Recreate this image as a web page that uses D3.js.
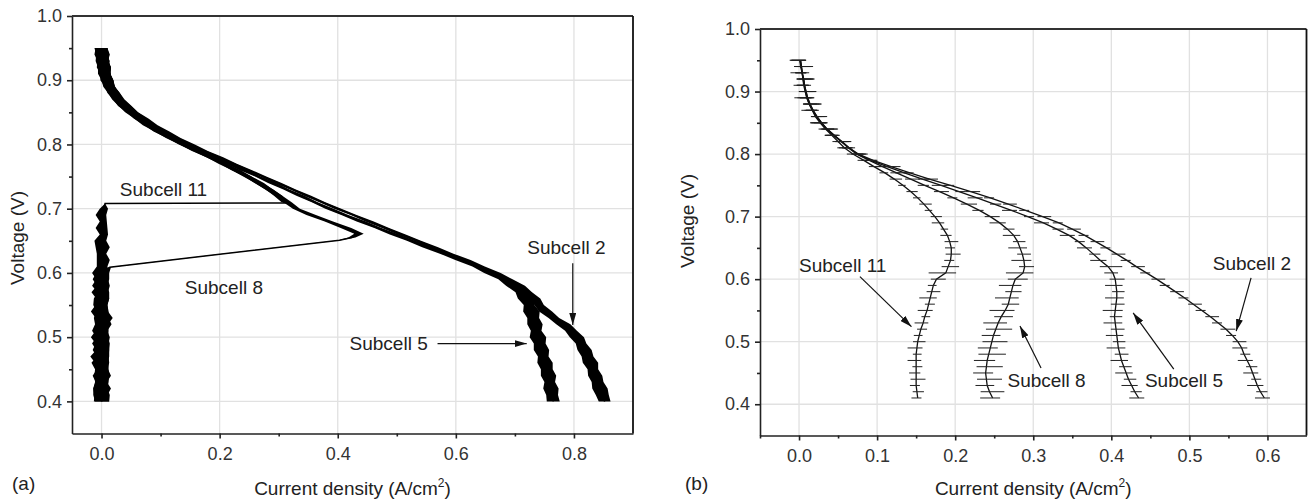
<!DOCTYPE html>
<html>
<head>
<meta charset="utf-8">
<script src="https://cdn.jsdelivr.net/npm/d3@7"></script>
<style>
    body { margin: 0; background: #fff; }
    svg text { font-family: "Liberation Sans", Arial, sans-serif; fill: #222; }
</style>
</head>
<body>
<svg id="chart" width="1308" height="500"></svg>
<script>
// ---- data: [voltage V, current density A/cm2, noise half-width] ----

// Panel (a)
const sub11A = [
    [0.95, 0.000, 0.010], [0.94, 0.001, 0.013], [0.93, 0.002, 0.009], [0.92, 0.004, 0.012], [0.91, 0.006, 0.008],
    [0.90, 0.009, 0.011], [0.89, 0.014, 0.008], [0.88, 0.020, 0.010], [0.87, 0.028, 0.008], [0.86, 0.038, 0.010],
    [0.85, 0.050, 0.007], [0.84, 0.064, 0.009], [0.83, 0.080, 0.007], [0.82, 0.097, 0.009], [0.81, 0.118, 0.007],
    [0.80, 0.140, 0.009], [0.79, 0.162, 0.007], [0.78, 0.185, 0.008], [0.77, 0.207, 0.006], [0.76, 0.228, 0.008],
    [0.75, 0.248, 0.006], [0.74, 0.267, 0.008], [0.73, 0.284, 0.006], [0.72, 0.299, 0.007], [0.71, 0.310, 0.005],
    [0.709, 0.313, 0.000], [0.708, 0.006, 0.000],
    [0.70, 0.004, 0.007], [0.69, -0.001, 0.009], [0.68, 0.003, 0.006], [0.67, 0.000, 0.010], [0.66, 0.004, 0.007],
    [0.65, -0.002, 0.010], [0.64, 0.002, 0.012], [0.63, 0.000, 0.008], [0.62, 0.003, 0.011], [0.61, 0.001, 0.009],
    [0.60, -0.002, 0.014], [0.59, 0.001, 0.010], [0.58, -0.001, 0.015], [0.57, 0.002, 0.009], [0.56, 0.000, 0.013],
    [0.55, -0.002, 0.012], [0.54, 0.001, 0.010], [0.53, 0.003, 0.016], [0.52, 0.000, 0.011], [0.51, -0.002, 0.014],
    [0.50, 0.001, 0.010], [0.49, -0.001, 0.015], [0.48, 0.002, 0.011], [0.47, -0.003, 0.016], [0.46, 0.000, 0.011],
    [0.45, 0.002, 0.010], [0.44, -0.001, 0.014], [0.43, 0.001, 0.011], [0.42, -0.002, 0.012], [0.41, 0.000, 0.014],
    [0.40, 0.001, 0.012]
];
const sub8A = [
    [0.95, -0.001, 0.011], [0.94, 0.000, 0.009], [0.93, 0.002, 0.012], [0.92, 0.003, 0.009], [0.91, 0.005, 0.011],
    [0.90, 0.008, 0.008], [0.89, 0.013, 0.010], [0.88, 0.019, 0.008], [0.87, 0.027, 0.009], [0.86, 0.037, 0.008],
    [0.85, 0.049, 0.009], [0.84, 0.063, 0.007], [0.83, 0.079, 0.009], [0.82, 0.097, 0.007], [0.81, 0.117, 0.008],
    [0.80, 0.139, 0.007], [0.79, 0.161, 0.008], [0.78, 0.184, 0.006], [0.77, 0.206, 0.008], [0.76, 0.227, 0.006],
    [0.75, 0.247, 0.007], [0.74, 0.266, 0.006], [0.73, 0.284, 0.007], [0.72, 0.300, 0.006], [0.71, 0.315, 0.007],
    [0.70, 0.330, 0.006], [0.69, 0.355, 0.008], [0.68, 0.385, 0.007], [0.67, 0.414, 0.009], [0.661, 0.436, 0.008],
    [0.655, 0.424, 0.006], [0.651, 0.403, 0.002], [0.609, 0.014, 0.002],
    [0.60, 0.002, 0.011], [0.59, -0.001, 0.014], [0.58, 0.001, 0.009], [0.57, -0.002, 0.015], [0.56, 0.002, 0.011],
    [0.55, 0.000, 0.010], [0.54, -0.003, 0.015], [0.53, 0.001, 0.011], [0.52, 0.003, 0.014], [0.51, 0.000, 0.010],
    [0.50, -0.002, 0.016], [0.49, 0.001, 0.011], [0.48, -0.001, 0.014], [0.47, 0.002, 0.010], [0.46, -0.002, 0.015],
    [0.45, 0.000, 0.011], [0.44, 0.002, 0.014], [0.43, -0.001, 0.010], [0.42, 0.001, 0.015], [0.41, -0.001, 0.011],
    [0.40, 0.000, 0.013]
];
const sub5A = [
    [0.95, 0.000, 0.010], [0.94, 0.001, 0.011], [0.93, 0.003, 0.008], [0.92, 0.005, 0.011], [0.91, 0.007, 0.008],
    [0.90, 0.010, 0.010], [0.89, 0.015, 0.007], [0.88, 0.022, 0.009], [0.87, 0.030, 0.007], [0.86, 0.041, 0.009],
    [0.85, 0.054, 0.007], [0.84, 0.069, 0.008], [0.83, 0.086, 0.006], [0.82, 0.104, 0.008], [0.81, 0.124, 0.006],
    [0.80, 0.146, 0.008], [0.79, 0.169, 0.006], [0.78, 0.193, 0.007], [0.77, 0.217, 0.005], [0.76, 0.241, 0.007],
    [0.75, 0.265, 0.005], [0.74, 0.289, 0.007], [0.73, 0.313, 0.005], [0.72, 0.337, 0.007], [0.71, 0.361, 0.005],
    [0.70, 0.386, 0.007], [0.69, 0.412, 0.006], [0.68, 0.440, 0.008], [0.67, 0.468, 0.006], [0.66, 0.496, 0.008],
    [0.65, 0.524, 0.007], [0.64, 0.552, 0.009], [0.63, 0.580, 0.007], [0.62, 0.609, 0.010], [0.61, 0.636, 0.008],
    [0.60, 0.660, 0.012], [0.59, 0.681, 0.009], [0.58, 0.698, 0.013], [0.57, 0.710, 0.009], [0.56, 0.718, 0.013],
    [0.55, 0.724, 0.009], [0.54, 0.728, 0.014], [0.53, 0.731, 0.010], [0.52, 0.734, 0.013], [0.51, 0.736, 0.009],
    [0.50, 0.739, 0.014], [0.49, 0.742, 0.010], [0.48, 0.745, 0.013], [0.47, 0.748, 0.009], [0.46, 0.751, 0.013],
    [0.45, 0.754, 0.010], [0.44, 0.757, 0.013], [0.43, 0.759, 0.009], [0.42, 0.761, 0.013], [0.41, 0.763, 0.010],
    [0.40, 0.765, 0.011]
];
const sub2A = [
    [0.95, 0.000, 0.009], [0.94, 0.002, 0.011], [0.93, 0.004, 0.008], [0.92, 0.006, 0.010], [0.91, 0.008, 0.007],
    [0.90, 0.011, 0.009], [0.89, 0.016, 0.007], [0.88, 0.023, 0.008], [0.87, 0.032, 0.007], [0.86, 0.043, 0.008],
    [0.85, 0.056, 0.006], [0.84, 0.072, 0.008], [0.83, 0.089, 0.006], [0.82, 0.108, 0.007], [0.81, 0.129, 0.005],
    [0.80, 0.151, 0.007], [0.79, 0.175, 0.005], [0.78, 0.199, 0.007], [0.77, 0.224, 0.005], [0.76, 0.249, 0.006],
    [0.75, 0.274, 0.005], [0.74, 0.299, 0.006], [0.73, 0.324, 0.005], [0.72, 0.349, 0.006], [0.71, 0.374, 0.005],
    [0.70, 0.400, 0.006], [0.69, 0.427, 0.005], [0.68, 0.454, 0.007], [0.67, 0.481, 0.006], [0.66, 0.508, 0.007],
    [0.65, 0.535, 0.006], [0.64, 0.562, 0.008], [0.63, 0.589, 0.007], [0.62, 0.616, 0.009], [0.61, 0.642, 0.007],
    [0.60, 0.666, 0.010], [0.59, 0.688, 0.008], [0.58, 0.706, 0.011], [0.57, 0.720, 0.009], [0.56, 0.731, 0.012],
    [0.55, 0.741, 0.008], [0.54, 0.752, 0.011], [0.53, 0.766, 0.009], [0.52, 0.782, 0.012], [0.51, 0.795, 0.010],
    [0.50, 0.805, 0.012], [0.49, 0.812, 0.009], [0.48, 0.818, 0.012], [0.47, 0.823, 0.010], [0.46, 0.828, 0.013],
    [0.45, 0.832, 0.009], [0.44, 0.836, 0.012], [0.43, 0.840, 0.010], [0.42, 0.844, 0.013], [0.41, 0.848, 0.011],
    [0.40, 0.852, 0.010]
];

// Panel (b)
const sub11B = [
    [0.95, 0.002, 0.012], [0.94, 0.003, 0.015], [0.93, 0.004, 0.008], [0.92, 0.005, 0.014], [0.91, 0.006, 0.009],
    [0.90, 0.008, 0.013], [0.89, 0.010, 0.016], [0.88, 0.013, 0.010], [0.87, 0.017, 0.014], [0.86, 0.021, 0.008],
    [0.85, 0.027, 0.013], [0.84, 0.034, 0.015], [0.83, 0.042, 0.008], [0.82, 0.050, 0.012], [0.81, 0.058, 0.009],
    [0.80, 0.069, 0.013], [0.79, 0.083, 0.008], [0.78, 0.096, 0.011], [0.77, 0.110, 0.007], [0.76, 0.122, 0.010],
    [0.75, 0.133, 0.006], [0.74, 0.143, 0.009], [0.73, 0.152, 0.006], [0.72, 0.160, 0.010], [0.71, 0.167, 0.006],
    [0.70, 0.174, 0.009], [0.69, 0.180, 0.010], [0.68, 0.185, 0.006], [0.67, 0.190, 0.009], [0.66, 0.193, 0.011],
    [0.65, 0.195, 0.008], [0.64, 0.195, 0.012], [0.63, 0.194, 0.008], [0.62, 0.191, 0.014], [0.61, 0.188, 0.022],
    [0.60, 0.176, 0.012], [0.59, 0.172, 0.007], [0.58, 0.170, 0.011], [0.57, 0.168, 0.014], [0.56, 0.166, 0.008],
    [0.55, 0.164, 0.012], [0.54, 0.161, 0.007], [0.53, 0.159, 0.011], [0.52, 0.156, 0.008], [0.51, 0.154, 0.007],
    [0.50, 0.152, 0.010], [0.49, 0.151, 0.012], [0.48, 0.150, 0.007], [0.47, 0.150, 0.011], [0.46, 0.150, 0.008],
    [0.45, 0.150, 0.009], [0.44, 0.150, 0.012], [0.43, 0.150, 0.008], [0.42, 0.151, 0.009], [0.41, 0.152, 0.008]
];
const sub8B = [
    [0.95, 0.001, 0.013], [0.94, 0.003, 0.009], [0.93, 0.004, 0.015], [0.92, 0.006, 0.010], [0.91, 0.007, 0.014],
    [0.90, 0.009, 0.009], [0.89, 0.011, 0.013], [0.88, 0.014, 0.015], [0.87, 0.018, 0.009], [0.86, 0.023, 0.013],
    [0.85, 0.029, 0.010], [0.84, 0.036, 0.014], [0.83, 0.045, 0.009], [0.82, 0.054, 0.013], [0.81, 0.063, 0.008],
    [0.80, 0.074, 0.012], [0.79, 0.090, 0.009], [0.78, 0.107, 0.013], [0.77, 0.125, 0.008], [0.76, 0.143, 0.012],
    [0.75, 0.161, 0.009], [0.74, 0.180, 0.012], [0.73, 0.198, 0.008], [0.72, 0.215, 0.013], [0.71, 0.231, 0.009],
    [0.70, 0.245, 0.012], [0.69, 0.257, 0.013], [0.68, 0.267, 0.009], [0.67, 0.275, 0.014], [0.66, 0.280, 0.010],
    [0.65, 0.283, 0.015], [0.64, 0.286, 0.011], [0.63, 0.288, 0.016], [0.62, 0.289, 0.012], [0.61, 0.287, 0.022],
    [0.60, 0.277, 0.016], [0.59, 0.274, 0.018], [0.58, 0.272, 0.013], [0.57, 0.270, 0.019], [0.56, 0.268, 0.014],
    [0.55, 0.264, 0.020], [0.54, 0.259, 0.015], [0.53, 0.255, 0.019], [0.52, 0.252, 0.021], [0.51, 0.249, 0.015],
    [0.50, 0.247, 0.020], [0.49, 0.245, 0.016], [0.48, 0.243, 0.022], [0.47, 0.241, 0.017], [0.46, 0.240, 0.021],
    [0.45, 0.239, 0.016], [0.44, 0.240, 0.020], [0.43, 0.241, 0.015], [0.42, 0.244, 0.019], [0.41, 0.248, 0.016]
];
const sub5B = [
    [0.95, 0.002, 0.011], [0.94, 0.003, 0.013], [0.93, 0.004, 0.009], [0.92, 0.006, 0.014], [0.91, 0.007, 0.009],
    [0.90, 0.009, 0.013], [0.89, 0.011, 0.010], [0.88, 0.014, 0.014], [0.87, 0.018, 0.009], [0.86, 0.023, 0.012],
    [0.85, 0.029, 0.013], [0.84, 0.036, 0.009], [0.83, 0.045, 0.012], [0.82, 0.055, 0.009], [0.81, 0.064, 0.013],
    [0.80, 0.075, 0.009], [0.79, 0.092, 0.012], [0.78, 0.113, 0.008], [0.77, 0.135, 0.012], [0.76, 0.158, 0.009],
    [0.75, 0.182, 0.012], [0.74, 0.205, 0.008], [0.73, 0.228, 0.012], [0.72, 0.250, 0.009], [0.71, 0.272, 0.012],
    [0.70, 0.293, 0.008], [0.69, 0.313, 0.012], [0.68, 0.330, 0.009], [0.67, 0.346, 0.012], [0.66, 0.358, 0.008],
    [0.65, 0.368, 0.012], [0.64, 0.377, 0.009], [0.63, 0.386, 0.013], [0.62, 0.396, 0.018], [0.61, 0.402, 0.011],
    [0.60, 0.405, 0.012], [0.59, 0.406, 0.014], [0.58, 0.407, 0.010], [0.57, 0.407, 0.015], [0.56, 0.406, 0.011],
    [0.55, 0.405, 0.016], [0.54, 0.404, 0.010], [0.53, 0.405, 0.015], [0.52, 0.406, 0.011], [0.51, 0.407, 0.014],
    [0.50, 0.408, 0.010], [0.49, 0.409, 0.015], [0.48, 0.411, 0.011], [0.47, 0.413, 0.014], [0.46, 0.416, 0.010],
    [0.45, 0.419, 0.014], [0.44, 0.422, 0.010], [0.43, 0.426, 0.013], [0.42, 0.430, 0.009], [0.41, 0.435, 0.012]
];
const sub2B = [
    [0.95, 0.001, 0.012], [0.94, 0.002, 0.014], [0.93, 0.004, 0.009], [0.92, 0.005, 0.013], [0.91, 0.007, 0.010],
    [0.90, 0.008, 0.014], [0.89, 0.010, 0.009], [0.88, 0.013, 0.013], [0.87, 0.017, 0.010], [0.86, 0.022, 0.011],
    [0.85, 0.028, 0.013], [0.84, 0.035, 0.010], [0.83, 0.044, 0.011], [0.82, 0.054, 0.012], [0.81, 0.064, 0.008],
    [0.80, 0.076, 0.012], [0.79, 0.095, 0.009], [0.78, 0.118, 0.012], [0.77, 0.142, 0.008], [0.76, 0.167, 0.011],
    [0.75, 0.194, 0.008], [0.74, 0.220, 0.012], [0.73, 0.245, 0.008], [0.72, 0.268, 0.011], [0.71, 0.290, 0.008],
    [0.70, 0.312, 0.011], [0.69, 0.333, 0.008], [0.68, 0.350, 0.011], [0.67, 0.366, 0.008], [0.66, 0.380, 0.011],
    [0.65, 0.394, 0.008], [0.64, 0.407, 0.011], [0.63, 0.420, 0.008], [0.62, 0.432, 0.011], [0.61, 0.445, 0.008],
    [0.60, 0.458, 0.011], [0.59, 0.470, 0.008], [0.58, 0.482, 0.011], [0.57, 0.494, 0.008], [0.56, 0.505, 0.011],
    [0.55, 0.516, 0.008], [0.54, 0.527, 0.011], [0.53, 0.537, 0.008], [0.52, 0.547, 0.012], [0.51, 0.555, 0.008],
    [0.50, 0.562, 0.011], [0.49, 0.567, 0.012], [0.48, 0.570, 0.008], [0.47, 0.574, 0.012], [0.46, 0.578, 0.009],
    [0.45, 0.581, 0.012], [0.44, 0.584, 0.008], [0.43, 0.587, 0.013], [0.42, 0.591, 0.009], [0.41, 0.596, 0.012]
];

// ticks
const voltTicks = [0.4, 0.5, 0.6, 0.7, 0.8, 0.9, 1.0];
const voltMinor = [0.45, 0.55, 0.65, 0.75, 0.85, 0.95];
const currTicksA = [0.0, 0.2, 0.4, 0.6, 0.8];
const currMinorA = [0.1, 0.3, 0.5, 0.7];
const currTicksB = [0.0, 0.1, 0.2, 0.3, 0.4, 0.5, 0.6];
const currMinorB = [-0.05, 0.05, 0.15, 0.25, 0.35, 0.45, 0.55];

// annotations (data units): label anchor, optional arrow from -> to
const notesA = [
    { text: 'Subcell 11', at: [0.031, 0.719] },
    { text: 'Subcell 8', at: [0.141, 0.567] },
    { text: 'Subcell 5', at: [0.420, 0.480], arrow: [[0.569, 0.490], [0.720, 0.490]] },
    { text: 'Subcell 2', at: [0.721, 0.629], arrow: [[0.798, 0.615], [0.798, 0.519]] }
];
const notesB = [
    { text: 'Subcell 11', at: [0.000, 0.612], arrow: [[0.078, 0.604], [0.144, 0.524]] },
    { text: 'Subcell 8', at: [0.267, 0.428], arrow: [[0.310, 0.458], [0.283, 0.525]] },
    { text: 'Subcell 5', at: [0.443, 0.428], arrow: [[0.480, 0.456], [0.428, 0.546]] },
    { text: 'Subcell 2', at: [0.530, 0.615], arrow: [[0.579, 0.602], [0.560, 0.517]] }
];

// ---- layout ----
const panels = [
    {
        tag: '(a)', series: [sub11A, sub8A, sub5A, sub2A], notes: notesA, bold: true,
        xDomain: [-0.05, 0.9], ticks: currTicksA, minor: currMinorA,
        left: 72, right: 633, top: 16, bottom: 433.5,
        yTitle: { x: 24, y: 238 }, tagX: 12
    },
    {
        tag: '(b)', series: [sub11B, sub8B, sub5B, sub2B], notes: notesB, bold: false,
        xDomain: [-0.05, 0.65], ticks: currTicksB, minor: currMinorB,
        left: 760, right: 1306.5, top: 29, bottom: 435.5,
        yTitle: { x: 694, y: 221 }, tagX: 685
    }
];

const svg = d3.select('#chart');

svg.append('defs').append('marker')
    .attr('id', 'arrowhead')
    .attr('viewBox', '0 0 12 7')
    .attr('refX', 12).attr('refY', 3.5)
    .attr('markerWidth', 12).attr('markerHeight', 7)
    .attr('markerUnits', 'userSpaceOnUse')
    .attr('orient', 'auto')
    .append('path')
    .attr('d', 'M0,0 L12,3.5 L0,7 Z')
    .attr('fill', '#111');

panels.forEach(p => drawPanel(p));

function drawPanel(p) {
    const g = svg.append('g');

    const x = d3.scaleLinear().domain(p.xDomain).range([p.left, p.right]);
    const y = d3.scaleLinear().domain([0.35, 1.0]).range([p.bottom, p.top]);

    // Grid lines at major ticks
    g.append('g').selectAll('line').data(p.ticks).join('line')
        .attr('x1', d => x(d)).attr('x2', d => x(d))
        .attr('y1', p.top).attr('y2', p.bottom)
        .attr('stroke', '#e1e1e1').attr('stroke-width', 1.3);

    g.append('g').selectAll('line').data(voltTicks.slice(0, -1)).join('line')
        .attr('x1', p.left).attr('x2', p.right)
        .attr('y1', d => y(d)).attr('y2', d => y(d))
        .attr('stroke', '#e1e1e1').attr('stroke-width', 1.3);

    const line = d3.line().x(d => x(d[1])).y(d => y(d[0]));

    // Curves
    const curves = g.append('g');
    p.series.forEach(s => {
        if (p.bold) {
            // solid noisy band: centre +/- noise half-width
            const band = d3.area()
                .x0(d => x(d[1] - d[2]))
                .x1(d => x(d[1] + d[2]))
                .y(d => y(d[0]));
            curves.append('path')
                .attr('d', band(s))
                .attr('fill', '#000');
            curves.append('path')
                .attr('d', line(s))
                .attr('fill', 'none')
                .attr('stroke', '#000')
                .attr('stroke-width', 1.5);
        } else {
            curves.append('path')
                .attr('d', line(s))
                .attr('fill', 'none')
                .attr('stroke', '#111')
                .attr('stroke-width', 1.3);
            // horizontal noise spikes, leaning to alternating sides
            curves.append('g').selectAll('line').data(s).join('line')
                .attr('x1', (d, i) => x(d[1] - d[2] * (i % 2 ? 0.6 : 1)))
                .attr('x2', (d, i) => x(d[1] + d[2] * (i % 2 ? 1 : 0.6)))
                .attr('y1', d => y(d[0]))
                .attr('y2', d => y(d[0]))
                .attr('stroke', '#222')
                .attr('stroke-width', 1);
        }
    });

    // Axes
    const fmt = d3.format('.1f');

    const xAxis = g.append('g')
        .attr('transform', `translate(0,${p.bottom})`)
        .call(d3.axisBottom(x).tickValues(p.ticks).tickSize(5).tickSizeOuter(0)
            .tickPadding(9).tickFormat(fmt));
    g.append('g')
        .attr('transform', `translate(0,${p.bottom})`)
        .call(d3.axisBottom(x).tickValues(p.minor).tickSize(3).tickSizeOuter(0).tickFormat(''))
        .select('.domain').remove();

    const yAxis = g.append('g')
        .attr('transform', `translate(${p.left},0)`)
        .call(d3.axisLeft(y).tickValues(voltTicks).tickSize(5).tickSizeOuter(0)
            .tickPadding(5).tickFormat(fmt));
    g.append('g')
        .attr('transform', `translate(${p.left},0)`)
        .call(d3.axisLeft(y).tickValues(voltMinor).tickSize(3).tickSizeOuter(0).tickFormat(''))
        .select('.domain').remove();

    g.selectAll('.domain, .tick line')
        .attr('stroke', '#222')
        .attr('stroke-width', 1.6);

    [xAxis, yAxis].forEach(a => a.selectAll('text')
        .attr('font-family', '"Liberation Sans", Arial, sans-serif')
        .attr('font-size', 18)
        .style('fill', '#333'));

    // Frame (top and right)
    g.append('line')
        .attr('x1', p.left).attr('x2', p.right)
        .attr('y1', p.top).attr('y2', p.top)
        .attr('stroke', '#333').attr('stroke-width', 1.8);
    g.append('line')
        .attr('x1', p.right).attr('x2', p.right)
        .attr('y1', p.top).attr('y2', p.bottom)
        .attr('stroke', '#111').attr('stroke-width', 1.8);

    // Annotations
    p.notes.forEach(n => {
        g.append('text')
            .attr('x', x(n.at[0]))
            .attr('y', y(n.at[1]))
            .attr('font-size', 19)
            .text(n.text);
        if (n.arrow) {
            g.append('line')
                .attr('x1', x(n.arrow[0][0])).attr('y1', y(n.arrow[0][1]))
                .attr('x2', x(n.arrow[1][0])).attr('y2', y(n.arrow[1][1]))
                .attr('stroke', '#111').attr('stroke-width', 1.2)
                .attr('marker-end', 'url(#arrowhead)');
        }
    });

    // Axis titles
    const xt = g.append('text')
        .attr('x', (p.left + p.right) / 2)
        .attr('y', 495)
        .attr('text-anchor', 'middle')
        .attr('font-size', 19);
    xt.append('tspan').text('Current density (A/cm');
    xt.append('tspan').attr('font-size', 12).attr('dy', -8).text('2');
    xt.append('tspan').attr('dy', 8).text(')');

    g.append('text')
        .attr('transform', `translate(${p.yTitle.x},${p.yTitle.y}) rotate(-90)`)
        .attr('text-anchor', 'middle')
        .attr('font-size', 19)
        .text('Voltage (V)');

    g.append('text')
        .attr('x', p.tagX)
        .attr('y', 490)
        .attr('font-size', 19)
        .text(p.tag);
}
</script>
</body>
</html>
